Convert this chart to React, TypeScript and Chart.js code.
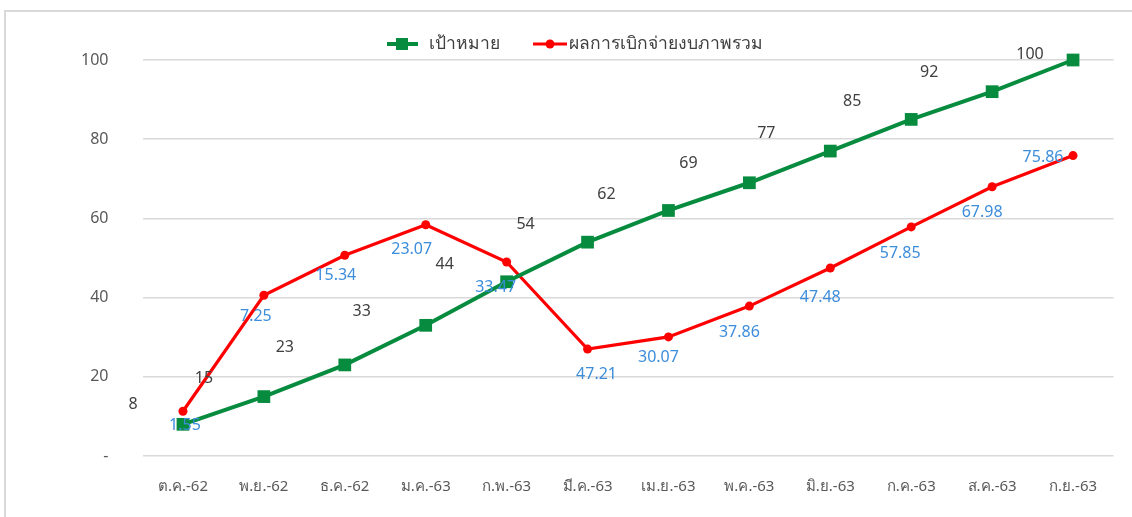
import React, { useEffect, useRef } from "react";
import { Chart, registerables } from "chart.js";

Chart.register(...registerables);

const categories = ["ต.ค.-62", "พ.ย.-62", "ธ.ค.-62", "ม.ค.-63", "ก.พ.-63", "มี.ค.-63", "เม.ย.-63", "พ.ค.-63", "มิ.ย.-63", "ก.ค.-63", "ส.ค.-63", "ก.ย.-63"];
const targetValues = [8, 15, 23, 33, 44, 54, 62, 69, 77, 85, 92, 100];
const targetLabels = ["8", "15", "23", "33", "44", "54", "62", "69", "77", "85", "92", "100"];
const actualValues = [11.3, 40.6, 50.7, 58.4, 49.0, 27.0, 30.07, 37.86, 47.48, 57.85, 67.98, 75.86];
const actualLabels = ["1.55", "7.25", "15.34", "23.07", "33.47", "47.21", "30.07", "37.86", "47.48", "57.85", "67.98", "75.86"];
const yTicks = [0, 20, 40, 60, 80, 100];
const seriesNames = ["เป้าหมาย", "ผลการเบิกจ่ายงบภาพรวม"];

const FONT = "'Noto Sans', 'Open Sans', sans-serif";
const GREEN = "#078C3F";
const RED = "#FF0000";

// label offsets (style only)
const greenOffsets = [[-50, -20], [-60, -18], [-60, -17], [-64, -14], [-62, -17], [-62, -18], [-62, -16], [-61, -19], [-64, -18], [-59, -18], [-63, -19], [-43, -6]];
const redOffsets = [[2, 14], [-8, 21], [-9, 20], [-14, 25], [-11, 25], [9, 25], [-10, 21], [-10, 26], [-10, 29], [-11, 27], [-10, 26], [-30, 2]];

const labelPlugin = {
  id: "customLabels",
  afterDatasetsDraw(chart: any) {
    const ctx = chart.ctx;
    ctx.save();
    ctx.font = `16px ${FONT}`;
    ctx.textAlign = "center";
    ctx.textBaseline = "middle";
    const m0 = chart.getDatasetMeta(0).data;
    const m1 = chart.getDatasetMeta(1).data;
    ctx.fillStyle = "#404040";
    m0.forEach((p: any, i: number) => {
      ctx.fillText(targetLabels[i], p.x + greenOffsets[i][0], p.y + greenOffsets[i][1]);
    });
    ctx.fillStyle = "#3C8DDB";
    m1.forEach((p: any, i: number) => {
      ctx.fillText(actualLabels[i], p.x + redOffsets[i][0], p.y + redOffsets[i][1]);
    });
    // legend
    const ly = 44;
    ctx.lineWidth = 4;
    ctx.strokeStyle = GREEN;
    ctx.beginPath();
    ctx.moveTo(387, ly);
    ctx.lineTo(418, ly);
    ctx.stroke();
    ctx.fillStyle = GREEN;
    ctx.fillRect(396, ly - 6, 12, 12);
    ctx.strokeStyle = RED;
    ctx.lineWidth = 3;
    ctx.beginPath();
    ctx.moveTo(533, ly);
    ctx.lineTo(567, ly);
    ctx.stroke();
    ctx.fillStyle = RED;
    ctx.beginPath();
    ctx.arc(550, ly, 4.5, 0, Math.PI * 2);
    ctx.fill();
    ctx.fillStyle = "#404040";
    ctx.textAlign = "left";
    ctx.font = `17.5px ${FONT}`;
    ctx.fillText(seriesNames[0], 429, ly);
    ctx.fillText(seriesNames[1], 569, ly);
    ctx.restore();
  },
};

export default function App() {
  const ref = useRef<HTMLCanvasElement>(null);
  useEffect(() => {
    if (!ref.current) return;
    const chart = new Chart(ref.current, {
      type: "line",
      data: {
        labels: categories,
        datasets: [
          {
            label: seriesNames[0],
            data: targetValues,
            borderColor: GREEN,
            backgroundColor: GREEN,
            borderWidth: 4,
            pointStyle: "rect",
            pointRadius: 9,
            pointHoverRadius: 9,
            pointBorderWidth: 0,
            tension: 0,
            clip: false,
          },
          {
            label: seriesNames[1],
            data: actualValues,
            borderColor: RED,
            backgroundColor: RED,
            borderWidth: 3.2,
            pointStyle: "circle",
            pointRadius: 4.5,
            pointHoverRadius: 4.5,
            pointBorderWidth: 0,
            tension: 0,
            clip: false,
          },
        ],
      },
      options: {
        animation: false,
        responsive: false,
        maintainAspectRatio: false,
        layout: { padding: { top: 60, right: 18.5, bottom: 0, left: 0 } },
        plugins: { legend: { display: false }, tooltip: { enabled: false } },
        scales: {
          x: {
            offset: true,
            grid: { display: false, drawTicks: false },
            border: { display: false },
            ticks: { color: "#595959", font: { family: FONT, size: 15 }, padding: 22, maxRotation: 0, autoSkip: false },
            afterFit: (s: any) => { s.height = 61; },
          },
          y: {
            min: 0,
            max: 100,
            afterBuildTicks: (s: any) => { s.ticks = yTicks.map((v) => ({ value: v })); },
            grid: { color: "#D9D9D9", lineWidth: 1.5, drawTicks: false },
            border: { display: false },
            ticks: {
              color: "#595959",
              font: { family: FONT, size: 16 },
              padding: 34,
              callback: (v: any) => (v === 0 ? "-" : String(v)),
            },
            afterFit: (s: any) => { s.width = 142.5; },
          },
        },
      },
      plugins: [labelPlugin],
    });
    return () => chart.destroy();
  }, []);
  return (
    <div style={{ position: "fixed", left: 0, top: 0, width: 1132, height: 517, background: "#fff", overflow: "hidden" }}>
      <div style={{ position: "absolute", left: 4, top: 10, width: 1200, height: 600, borderTop: "2px solid #D9D9D9", borderLeft: "2px solid #D9D9D9" }} />
      <canvas ref={ref} width={1132} height={517} style={{ position: "absolute", left: 0, top: 0 }} />
    </div>
  );
}
